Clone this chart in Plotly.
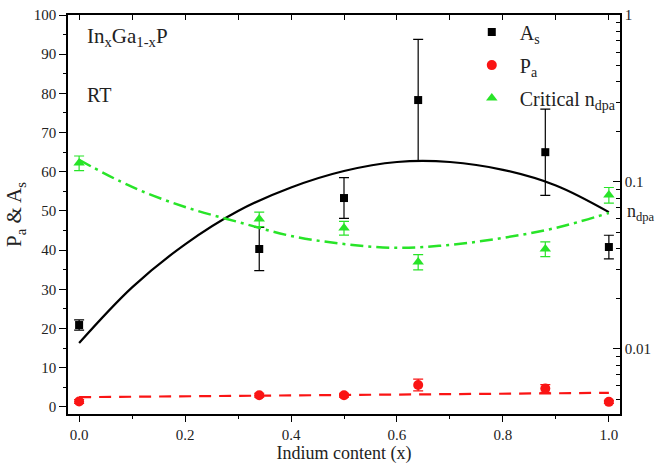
import plotly.graph_objects as go

# ---- data ----
x_pts = [0.0, 0.34, 0.5, 0.64, 0.88, 1.0]
as_vals = [20.9, 40.3, 53.3, 78.3, 65.0, 40.8]
as_err = [1.3, 5.5, 5.2, 15.5, 11.0, 3.0]
pa_vals = [1.4, 3.0, 3.0, 5.6, 4.7, 1.3]
pa_err = [0.5, 0.5, 0.5, 1.5, 1.0, 0.4]
nd_vals = [0.130, 0.060, 0.053, 0.0332, 0.0397, 0.0836]
nd_err = [0.013, 0.006, 0.005, 0.0035, 0.004, 0.009]

fit_x = [0.0, 0.1, 0.2, 0.3, 0.4, 0.5, 0.6, 0.7, 0.8, 0.9, 1.0]
as_fit = [16.3, 30.5, 41.5, 50.0, 56.0, 60.2, 62.5, 62.5, 60.5, 56.5, 49.7]
nd_fit = [0.1355, 0.0933, 0.0708, 0.0576, 0.0475, 0.0425, 0.0403, 0.0420, 0.0462, 0.0531, 0.0652]
pa_fit_x = [0.0, 1.0]
pa_fit = [2.5, 3.6]

right_major = [0.01, 0.1, 1]
right_major_text = ["0.01", "0.1", "1"]
right_minor = [m * d for d in (0.001, 0.01, 0.1) for m in range(2, 10)]

FONT = "Liberation Serif"
GREEN = "rgb(40,228,40)"
RED = "rgb(250,20,20)"
TXT = "#222"

fig = go.Figure()

# fit curves
fig.add_trace(go.Scatter(x=fit_x, y=as_fit, mode="lines", line=dict(color="black", width=2.2, shape="spline"),
                         showlegend=False, hoverinfo="skip"))
fig.add_trace(go.Scatter(x=pa_fit_x, y=pa_fit, mode="lines", line=dict(color=RED, width=2.2, dash="12px,8px"),
                         showlegend=False, hoverinfo="skip"))
fig.add_trace(go.Scatter(x=fit_x, y=nd_fit, yaxis="y2", mode="lines",
                         line=dict(color=GREEN, width=2.5, dash="13px,5px,3px,5px", shape="spline"),
                         showlegend=False, hoverinfo="skip"))

# data points
fig.add_trace(go.Scatter(x=x_pts, y=as_vals, mode="markers", name="A<sub>s</sub>",
                         marker=dict(symbol="square", size=8, color="black"),
                         error_y=dict(type="data", array=as_err, color="black", thickness=1.2, width=5),
                         legendgroup="a"))
fig.add_trace(go.Scatter(x=x_pts, y=pa_vals, mode="markers", name="P<sub>a</sub>",
                         marker=dict(symbol="circle", size=10, color=RED),
                         error_y=dict(type="data", array=pa_err, color=RED, thickness=1.2, width=5),
                         legendgroup="b"))
fig.add_trace(go.Scatter(x=x_pts, y=nd_vals, yaxis="y2", mode="markers", name="Critical n<sub>dpa</sub>",
                         marker=dict(symbol="triangle-up", size=10, color=GREEN),
                         error_y=dict(type="data", array=nd_err, color=GREEN, thickness=1.2, width=5),
                         legendgroup="c"))

# invisible helper for extra axes
fig.add_trace(go.Scatter(x=[0.5], y=[0.05], xaxis="x2", yaxis="y3", mode="markers",
                         marker=dict(opacity=0), showlegend=False, hoverinfo="skip"))

ax_common = dict(showgrid=False, zeroline=False, showline=True, linecolor="black", linewidth=1.5,
                 tickcolor="black", tickfont=dict(family=FONT, size=15, color=TXT), automargin=False)

fig.update_layout(
    width=656, height=470,
    margin=dict(l=68, r=36, t=15, b=56, autoexpand=False),
    plot_bgcolor="white", paper_bgcolor="white",
    font=dict(family=FONT, color=TXT),
    xaxis=dict(range=[-0.021, 1.021], tickvals=[0, 0.2, 0.4, 0.6, 0.8, 1.0],
               ticktext=["0.0", "0.2", "0.4", "0.6", "0.8", "1.0"], ticks="outside", ticklen=6, tickwidth=1.3,
               minor=dict(dtick=0.1, tick0=0, ticks="outside", ticklen=3, tickcolor="black"),
               title=dict(text="Indium content (x)", font=dict(family=FONT, size=18, color=TXT), standoff=4),
               **ax_common),
    xaxis2=dict(range=[-0.021, 1.021], overlaying="x", side="top", showticklabels=False,
                ticks="inside", ticklen=5, tickwidth=1.3, dtick=0.1, tick0=0, **ax_common),
    yaxis=dict(range=[-1.8, 100], dtick=10, tick0=0, ticks="outside", ticklen=7, tickwidth=1.3,
               minor=dict(dtick=5, tick0=0, ticks="outside", ticklen=3, tickcolor="black"),
               title=dict(text="P<sub>a</sub> &amp; A<sub>s</sub>", font=dict(family=FONT, size=21, color=TXT),
                          standoff=6),
               **ax_common),
    yaxis2=dict(type="log", range=[-2.39, 0], overlaying="y", side="right", tickvals=right_major,
                ticktext=right_major_text, ticks="inside", ticklen=7, tickwidth=1.3, **ax_common),
    yaxis3=dict(type="log", range=[-2.39, 0], overlaying="y", side="right", tickvals=right_minor,
                showticklabels=False, ticks="inside", ticklen=4, tickwidth=1.2, **ax_common),
    legend=dict(x=0.717, y=1.006, xanchor="left", yanchor="top", bgcolor="rgba(0,0,0,0)",
                font=dict(family=FONT, size=20, color=TXT), traceorder="grouped", tracegroupgap=4,
                itemwidth=46),
    showlegend=True,
    annotations=[
        dict(text="In<sub>x</sub>Ga<sub>1-x</sub>P", x=0.03, y=0.945, xref="paper", yref="paper",
             xanchor="left", yanchor="middle", showarrow=False, font=dict(family=FONT, size=21, color=TXT)),
        dict(text="RT", x=0.03, y=0.80, xref="paper", yref="paper",
             xanchor="left", yanchor="middle", showarrow=False, font=dict(family=FONT, size=20, color=TXT)),
        dict(text="n<sub>dpa</sub>", x=1.009, y=0.504, xref="paper", yref="paper",
             xanchor="left", yanchor="middle", showarrow=False, font=dict(family=FONT, size=18, color=TXT)),
    ],
)

fig.write_html("out.html")
